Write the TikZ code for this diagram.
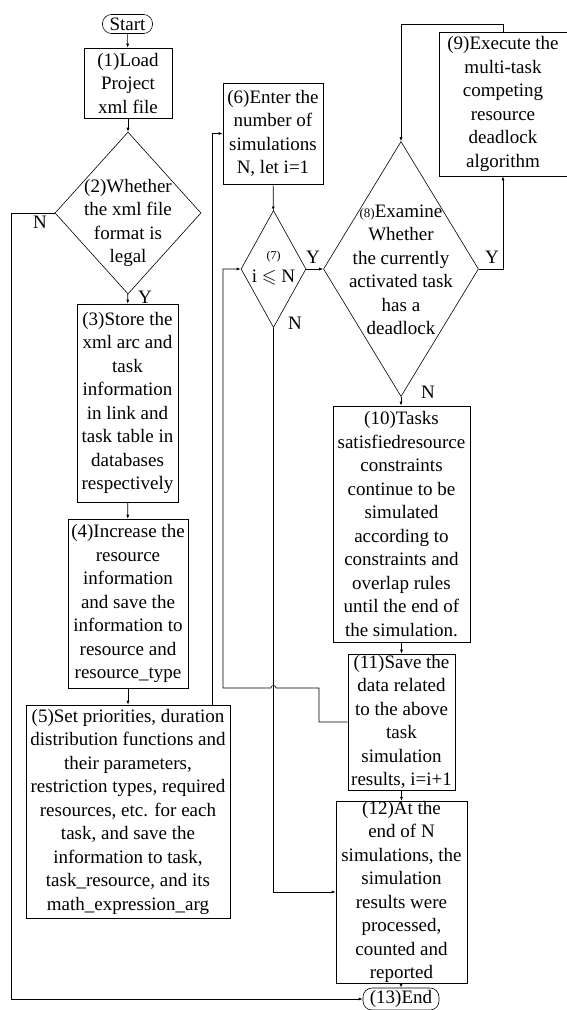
\documentclass[tikz,border=0pt]{standalone}
\usepackage{amssymb}
\usepackage{fontspec}
\setmainfont{Liberation Serif}
\usetikzlibrary{shapes.geometric,arrows.meta}
\begin{document}
\begin{tikzpicture}[x=1pt,y=-1pt,
    font=\fontsize{19}{23.5}\selectfont,
    line width=0.6pt,
    box/.style={draw,rectangle,inner sep=0pt,align=center},
    term/.style={draw,rectangle,rounded corners=9pt,inner sep=0pt},
    dia/.style={draw,diamond,inner sep=0pt},
    lab/.style={inner sep=0pt,align=center},
    arr/.style={-{Latex[length=4pt,width=3pt]}}]
  \useasboundingbox (0,0) rectangle (566,1010);
  \node[term,minimum width=50,minimum height=19] (start) at (127.5,24) {Start};
  \node[box,minimum width=88,minimum height=70] (b1) at (128,83) {(1)Load\\Project\\xml file};
  \node[dia,minimum width=146,minimum height=162] (d2) at (128,213) {};
  \node[lab] (t2) at (128,223) {(2)Whether\\the xml file\\format is\\legal};
  \node[box,minimum width=101,minimum height=198] (b3) at (127.5,403) {(3)Store the\\xml arc and\\task\\information\\in link and\\task table in\\databases\\respectively};
  \node[box,minimum width=120,minimum height=169] (b4) at (128,603.5) {(4)Increase the\\resource\\information\\and save the\\information to\\resource and\\resource\_type};
  \node[box,minimum width=204,minimum height=213] (b5) at (128,811.5) {(5)Set priorities, duration\\distribution functions and\\their parameters,\\restriction types, required\\resources, etc. for each\\task, and save the\\information to task,\\task\_resource, and its\\math\_expression\_arg};
  \node[box,minimum width=100,minimum height=101] (b6) at (273,133.5) {(6)Enter the\\number of\\simulations\\N, let i=1};
  \node[dia,minimum width=65,minimum height=117] (d7) at (273.5,269) {};
  \node[lab] (t7) at (273.5,268) {{\fontsize{12}{14}\selectfont(7)}\\i $\leqslant$ N};
  \node[dia,minimum width=155,minimum height=255] (d8) at (401,269) {};
  \node[lab] (t8) at (401,270) {{\fontsize{13}{15}\selectfont(8)}Examine\\Whether\\the currently\\activated task\\has a\\deadlock};
  \node[box,minimum width=128,minimum height=144] (b9) at (503,104) {(9)Execute the\\multi-task\\competing\\resource\\deadlock\\algorithm};
  \node[box,minimum width=137,minimum height=236] (b10) at (401.5,524) {(10)Tasks\\satisfiedresource\\constraints\\continue to be\\simulated\\according to\\constraints and\\overlap rules\\until the end of\\the simulation.};
  \node[box,minimum width=107,minimum height=136] (b11) at (401.5,722) {(11)Save the\\data related\\to the above\\task\\simulation\\results, i=i+1};
  \node[box,minimum width=131,minimum height=180] (b12) at (401.5,892) {(12)At the\\end of N\\simulations, the\\simulation\\results were\\processed,\\counted and\\reported};
  \node[term,minimum width=76,minimum height=22] (end) at (401,999) {(13)End};
  \node[lab] (y2) at (145,297) {Y};
  \node[lab] (n2) at (40,222) {N};
  \node[lab] (y7) at (313,257) {Y};
  \node[lab] (n7) at (295,323) {N};
  \node[lab] (y8) at (492,257) {Y};
  \node[lab] (n8) at (428,392) {N};
  \coordinate (nl) at (11,999);
  \coordinate (up) at (212,0);
  \coordinate (k1) at (319,688);
  \coordinate (k2) at (223,688);
  \draw[arr] (start) -- (b1);
  \draw[arr] (b1) -- (d2);
  \draw[arr] (d2) -- (b3);
  \draw[arr] (b3) -- (b4);
  \draw[arr] (b4) -- (b5);
  \draw[arr] (d2.west) -| (nl) -- (end.west);
  \draw[arr] (b5.north -| up) |- (b6.west);
  \draw[arr] (b6) -- (d7);
  \draw[arr] (d7.east) -- (d8.west);
  \draw[arr] (d8.east) -| (b9.south);
  \draw[arr] (b9.north) -- ++(0,-7) -| (d8.north);
  \draw[arr] (d8.south) -- (d8.south |- b10.north);
  \draw[arr] (b10.south -| b11.north) -- (b11.north);
  \draw[arr] (b11) -- (b12);
  \draw[arr] (b12) -- (end);
  \draw[arr] (d7.south) |- (b12.west);
  \draw[arr] (b11.west) -| (k1) -- ([xshift=2.5pt]d7.south |- k1) arc (0:-180:2.5) -- (k2) |- (d7.west);
\end{tikzpicture}
\end{document}
